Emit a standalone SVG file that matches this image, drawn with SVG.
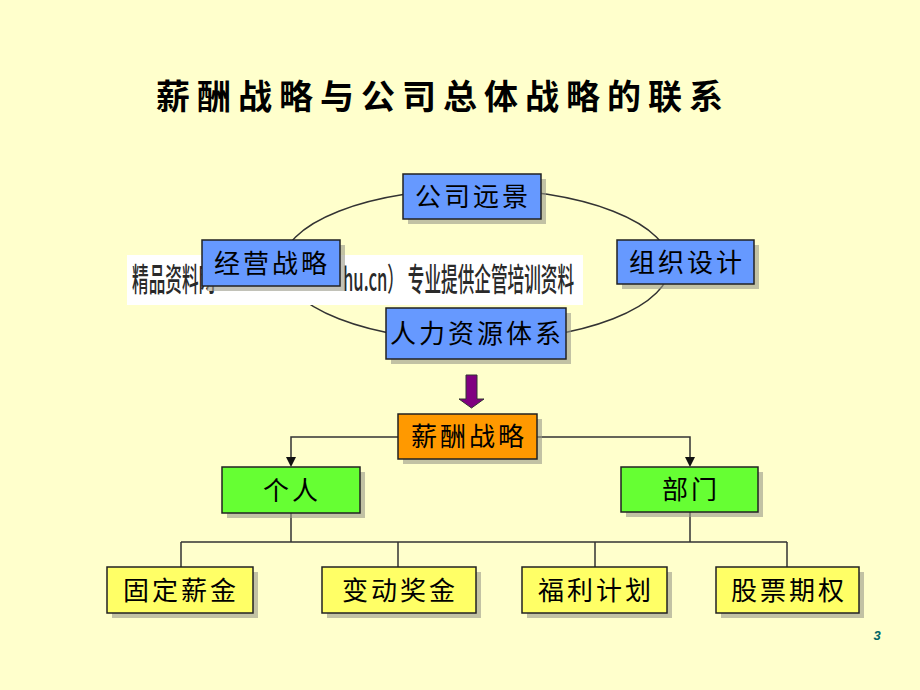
<svg xmlns="http://www.w3.org/2000/svg" width="920" height="690" viewBox="0 0 920 690">
<defs>
<style>
.bg{fill:#FFFFCC}
.sh{fill:#9a9a88;opacity:0.6}
.box{stroke:#222;stroke-width:1.5}
.blue{fill:#6699FF}
.orange{fill:#FF9900}
.green{fill:#66FF33}
.yellow{fill:#FFFF66}
.t{font-family:"Noto Sans CJK SC","Noto Sans",sans-serif;font-size:26px;fill:#000;text-anchor:middle;letter-spacing:3px}
.ln{stroke:#333;stroke-width:1.5;fill:none}
</style>
<marker id="ah" markerWidth="10" markerHeight="10" refX="8" refY="5" orient="auto" markerUnits="userSpaceOnUse">
<path d="M0,0 L10,5 L0,10 z" fill="#111"/>
</marker>
</defs>
<rect class="bg" x="0" y="0" width="920" height="690"/>
<text x="443" y="109" font-family="'Noto Sans CJK SC',sans-serif" font-size="34" font-weight="bold" text-anchor="middle" letter-spacing="7" fill="#000">薪酬战略与公司总体战略的联系</text>

<g id="connectors">
<ellipse class="ln" cx="476" cy="265" rx="194" ry="76" stroke="#000"/>
<path d="M398,437 H291 V465" class="ln" marker-end="url(#ah)"/>
<path d="M537,437 H690 V465" class="ln" marker-end="url(#ah)"/>
<path d="M291,513 V542 M690,512 V542 M181,542 H787 M181,542 V567 M398,542 V567 M595,542 V567 M787,542 V567" class="ln"/>
<path d="M466,375 H477 V399 H484 L471.5,408 L459,399 H466 Z" fill="#800080" stroke="#333" stroke-width="1"/>
</g>

<g id="watermark">
<rect x="127" y="255" width="456" height="50" fill="#FFFFFF"/>
<g font-family="'Noto Sans CJK SC',sans-serif" font-size="32" font-weight="500" fill="#2a2a2a">
<text transform="translate(132,291) scale(0.52,1)">精品资料网</text>
<text transform="translate(343,291) scale(0.52,1)">hu.cn）   专业提供企管培训资料</text>
</g>
</g>

<g id="n-vision">
<rect class="sh" x="408" y="179" width="138" height="45"/>
<rect class="box blue" x="403" y="174" width="138" height="45"/>
<text class="t" x="473" y="206">公司远景</text>
</g>
<g id="n-business">
<rect class="sh" x="207" y="245" width="138" height="46"/>
<rect class="box blue" x="202" y="240" width="138" height="46"/>
<text class="t" x="272" y="273">经营战略</text>
</g>
<g id="n-org">
<rect class="sh" x="622" y="245" width="137" height="44"/>
<rect class="box blue" x="617" y="240" width="137" height="44"/>
<text class="t" x="687" y="272">组织设计</text>
</g>
<g id="n-hr">
<rect class="sh" x="391" y="313" width="180" height="51"/>
<rect class="box blue" x="386" y="308" width="180" height="51"/>
<text class="t" x="477" y="343">人力资源体系</text>
</g>
<g id="n-comp">
<rect class="sh" x="403" y="419" width="139" height="45"/>
<rect class="box orange" x="398" y="414" width="139" height="45"/>
<text class="t" x="469" y="446">薪酬战略</text>
</g>
<g id="n-indiv">
<rect class="sh" x="227" y="472" width="138" height="46"/>
<rect class="box green" x="222" y="467" width="138" height="46"/>
<text class="t" x="292" y="500">个人</text>
</g>
<g id="n-dept">
<rect class="sh" x="626" y="472" width="137" height="45"/>
<rect class="box green" x="621" y="467" width="137" height="45"/>
<text class="t" x="691" y="499">部门</text>
</g>
<g id="n-fixed">
<rect class="sh" x="112" y="572" width="146" height="46"/>
<rect class="box yellow" x="107" y="567" width="146" height="46"/>
<text class="t" x="181" y="600">固定薪金</text>
</g>
<g id="n-bonus">
<rect class="sh" x="327" y="572" width="154" height="46"/>
<rect class="box yellow" x="322" y="567" width="154" height="46"/>
<text class="t" x="400" y="600">变动奖金</text>
</g>
<g id="n-welfare">
<rect class="sh" x="527" y="572" width="145" height="46"/>
<rect class="box yellow" x="522" y="567" width="145" height="46"/>
<text class="t" x="596" y="600">福利计划</text>
</g>
<g id="n-stock">
<rect class="sh" x="721" y="572" width="143" height="46"/>
<rect class="box yellow" x="716" y="567" width="143" height="46"/>
<text class="t" x="789" y="600">股票期权</text>
</g>
<text x="877" y="640" font-family="'Liberation Sans',sans-serif" font-size="13" font-weight="bold" font-style="italic" fill="#006666" text-anchor="middle">3</text>
</svg>
